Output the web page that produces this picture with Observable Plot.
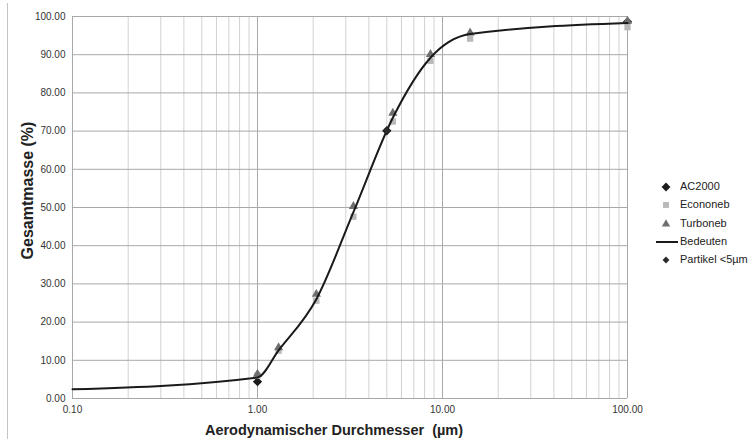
<!DOCTYPE html>
<html>
<head>
<meta charset="utf-8">
<script src="https://cdn.jsdelivr.net/npm/d3@7"></script>
<script src="https://cdn.jsdelivr.net/npm/@observablehq/plot@0.6"></script>
<style>
  html, body { margin: 0; padding: 0; background: #fff; }
  #wrap { position: relative; width: 756px; height: 442px; font-family: "Liberation Sans", Arial, Helvetica, sans-serif; }
  #edge { position: absolute; left: 7px; top: 3px; width: 1px; height: 436px; background: #c4c4c4; }
  #legend { position: absolute; left: 650px; top: 178px; font-size: 11px; color: #222; }
  .item { position: absolute; left: 0; height: 18px; width: 110px; }
  .item svg { position: absolute; left: 0; top: 0; }
  .item span { position: absolute; left: 30px; top: 2px; white-space: nowrap; }
</style>
</head>
<body>
<div id="wrap">
  <div id="edge"></div>
  <div id="chart"></div>
  <div id="legend"></div>
</div>
<script>
// ---- data ----
const seriesNames = ["AC2000", "Econoneb", "Turboneb", "Bedeuten", "Partikel <5µm"];

const ac2000X = [1.0, 5.0, 100];
const ac2000Y = [4.4, 70.1, 98.6];

const econonebX = [1.0, 1.3, 2.08, 3.3, 5.39, 8.61, 14.1, 100];
const econonebY = [6.0, 12.5, 25.6, 47.6, 72.5, 88.4, 94.2, 97.2];

const turbonebX = [1.0, 1.3, 2.08, 3.3, 5.39, 8.61, 14.1, 100];
const turbonebY = [6.4, 13.3, 27.3, 50.3, 74.7, 90.1, 95.7, 98.8];

const meanX = [0.1, 1.0, 1.3, 2.08, 3.3, 5.39, 8.61, 14.1, 100];
const meanY = [2.4, 5.5, 12.6, 26.0, 48.8, 73.5, 89.2, 95.4, 98.3];

const partikelX = [5.0];
const partikelY = [70.1];

const xTicks = [0.1, 1, 10, 100];
const xMinorTicks = [0.2, 0.3, 0.4, 0.5, 0.6, 0.7, 0.8, 0.9,
                     2, 3, 4, 5, 6, 7, 8, 9,
                     20, 30, 40, 50, 60, 70, 80, 90];
const yTicks = [0, 10, 20, 30, 40, 50, 60, 70, 80, 90, 100];
const xTitle = "Aerodynamischer Durchmesser  (µm)";
const yTitle = "Gesamtmasse (%)";

// ---- build tables ----
const zip = (xs, ys) => xs.map((x, i) => ({x, y: ys[i]}));
const ac2000 = zip(ac2000X, ac2000Y);
const econoneb = zip(econonebX, econonebY);
const turboneb = zip(turbonebX, turbonebY);
const mean = zip(meanX, meanY);
const partikel = zip(partikelX, partikelY);

const colors = {ac: "#1c1c1c", eco: "#b9b9b9", turbo: "#6f6f6f", line: "#1a1a1a", part: "#2a2a2a"};

const chart = Plot.plot({
  width: 756,
  height: 442,
  marginLeft: 72,
  marginRight: 129,
  marginTop: 16,
  marginBottom: 44,
  style: {fontFamily: "Liberation Sans, Arial, Helvetica, sans-serif", fontSize: "10px", color: "#333", background: "transparent"},
  x: {type: "log", domain: [0.1, 100], ticks: xTicks, tickFormat: d3.format(".2f"), tickSize: 0, tickPadding: 7, label: null},
  y: {domain: [0, 100], ticks: yTicks, tickFormat: d3.format(".2f"), tickSize: 0, tickPadding: 7, label: null},
  marks: [
    Plot.ruleX(xMinorTicks, {stroke: "#d2d2d2", strokeWidth: 1}),
    Plot.ruleX(xTicks, {stroke: "#a8a8a8", strokeWidth: 1}),
    Plot.ruleY(yTicks, {stroke: "#a8a8a8", strokeWidth: 1}),
    Plot.dot(ac2000, {x: "x", y: "y", symbol: "diamond2", r: 4.2, fill: colors.ac}),
    Plot.dot(econoneb, {x: "x", y: "y", symbol: "square2", r: 4, fill: colors.eco}),
    Plot.dot(turboneb, {x: "x", y: "y", symbol: "triangle2", r: 4.4, fill: colors.turbo}),
    Plot.line(mean, {x: "x", y: "y", curve: "monotone-x", stroke: colors.line, strokeWidth: 2}),
    Plot.dot(partikel, {x: "x", y: "y", symbol: "diamond2", r: 3.2, fill: colors.part}),
    Plot.text([yTitle], {frameAnchor: "left", rotate: -90, dx: -45, dy: -17, textAnchor: "middle", lineAnchor: "middle",
      fontSize: 16, fontWeight: "bold", fill: "#222"}),
    Plot.text([xTitle], {frameAnchor: "bottom", dx: -16, dy: 32, textAnchor: "middle", lineAnchor: "middle",
      fontSize: 14.5, fontWeight: "bold", fill: "#222"})
  ]
});
document.getElementById("chart").appendChild(chart);

// ---- legend ----
const legend = d3.select("#legend");
const sym = {
  "AC2000": {type: d3.symbolDiamond2, size: 50, fill: colors.ac},
  "Econoneb": {type: d3.symbolSquare2, size: 45, fill: colors.eco},
  "Turboneb": {type: d3.symbolTriangle2, size: 50, fill: colors.turbo},
  "Partikel <5µm": {type: d3.symbolDiamond2, size: 30, fill: colors.part}
};
seriesNames.forEach((name, i) => {
  const item = legend.append("div").attr("class", "item").style("top", (i * 18.3) + "px");
  const svg = item.append("svg").attr("width", 30).attr("height", 18);
  if (name === "Bedeuten") {
    svg.append("line").attr("x1", 6).attr("x2", 28).attr("y1", 9).attr("y2", 9)
      .attr("stroke", colors.line).attr("stroke-width", 2);
  } else {
    const s = sym[name];
    svg.append("path").attr("transform", "translate(16,9)")
      .attr("d", d3.symbol(s.type, s.size)()).attr("fill", s.fill);
  }
  item.append("span").text(name);
});
</script>
</body>
</html>
